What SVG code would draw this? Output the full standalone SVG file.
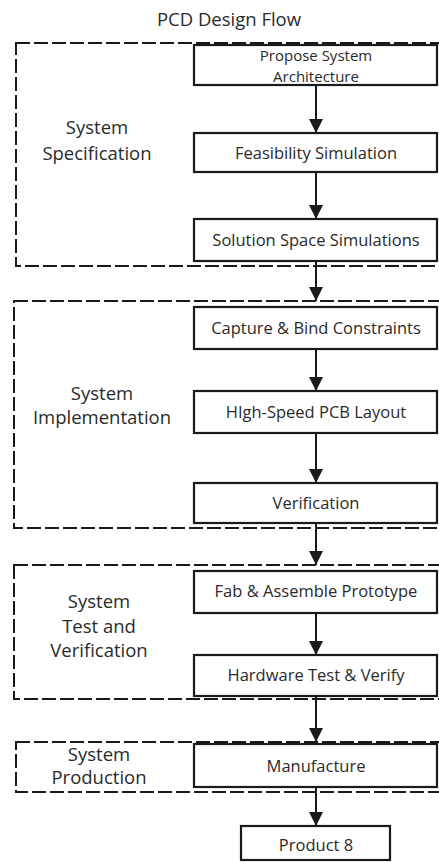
<svg xmlns="http://www.w3.org/2000/svg" width="439" height="862" viewBox="0 0 439 862">
<style>
  .grp { fill: none; stroke: #1a1a1a; stroke-width: 2; stroke-dasharray: 14 4; }
  .box { fill: #ffffff; stroke: #1a1a1a; stroke-width: 2.2; }
  .bt { font-family: "Open Sans", "Liberation Sans", sans-serif; font-size: 16.5px; fill: #2a2a2a; text-anchor: middle; }
  .bt2 { font-family: "Open Sans", "Liberation Sans", sans-serif; font-size: 15px; fill: #2a2a2a; text-anchor: middle; }
  .lt { font-family: "Open Sans", "Liberation Sans", sans-serif; font-size: 18.5px; fill: #2a2a2a; text-anchor: middle; }
  .conn { stroke: #1a1a1a; stroke-width: 2; fill: none; marker-end: url(#ah); }
</style>
<defs>
  <marker id="ah" markerUnits="userSpaceOnUse" markerWidth="14" markerHeight="14" viewBox="0 0 14 14" refX="14" refY="7" orient="auto">
    <path d="M0,0 L14,7 L0,14 Z" fill="#1a1a1a"/>
  </marker>
</defs>
<rect width="439" height="862" fill="#ffffff"/>
<text x="229" y="26" class="lt">PCD Design Flow</text>

<g id="stage-spec">
  <rect class="grp" x="16" y="43" width="440" height="223"/>
  <text class="lt" x="97" y="134">System</text>
  <text class="lt" x="97" y="160">Specification</text>
</g>
<g id="stage-impl">
  <rect class="grp" x="14" y="301" width="440" height="227"/>
  <text class="lt" x="102" y="400">System</text>
  <text class="lt" x="102" y="424">Implementation</text>
</g>
<g id="stage-test">
  <rect class="grp" x="14" y="565" width="440" height="134"/>
  <text class="lt" x="99" y="608">System</text>
  <text class="lt" x="99" y="633">Test and</text>
  <text class="lt" x="99" y="657">Verification</text>
</g>
<g id="stage-prod">
  <rect class="grp" x="16" y="742" width="440" height="50"/>
  <text class="lt" x="99" y="761">System</text>
  <text class="lt" x="99" y="784">Production</text>
</g>

<g id="n1"><rect class="box" x="194" y="45" width="243" height="40"/>
  <text class="bt2" x="316" y="61">Propose System</text>
  <text class="bt2" x="316" y="81.5">Architecture</text></g>
<g id="n2"><rect class="box" x="194" y="133" width="243" height="39"/>
  <text class="bt" x="316" y="159">Feasibility Simulation</text></g>
<g id="n3"><rect class="box" x="194" y="219" width="243" height="42"/>
  <text class="bt" x="316" y="246">Solution Space Simulations</text></g>
<g id="n4"><rect class="box" x="194" y="307" width="243" height="42"/>
  <text class="bt" x="316" y="334">Capture &amp; Bind Constraints</text></g>
<g id="n5"><rect class="box" x="194" y="391" width="243" height="42"/>
  <text class="bt" x="316" y="418">HIgh-Speed PCB Layout</text></g>
<g id="n6"><rect class="box" x="194" y="483" width="243" height="40"/>
  <text class="bt" x="316" y="509">Verification</text></g>
<g id="n7"><rect class="box" x="194" y="571" width="243" height="42"/>
  <text class="bt" x="316" y="597">Fab &amp; Assemble Prototype</text></g>
<g id="n8"><rect class="box" x="194" y="655" width="243" height="41"/>
  <text class="bt" x="316" y="681">Hardware Test &amp; Verify</text></g>
<g id="n9"><rect class="box" x="194" y="744" width="243" height="43"/>
  <text class="bt" x="316" y="772">Manufacture</text></g>
<g id="n10"><rect class="box" x="241" y="826" width="149" height="34"/>
  <text class="bt" x="316" y="851">Product 8</text></g>

<g id="connectors">
  <line class="conn" x1="316" y1="86" x2="316" y2="133"/>
  <line class="conn" x1="316" y1="173" x2="316" y2="219"/>
  <line class="conn" x1="316" y1="262" x2="316" y2="301"/>
  <line class="conn" x1="316" y1="350" x2="316" y2="391"/>
  <line class="conn" x1="316" y1="434" x2="316" y2="483"/>
  <line class="conn" x1="316" y1="524" x2="316" y2="565"/>
  <line class="conn" x1="316" y1="614" x2="316" y2="655"/>
  <line class="conn" x1="316" y1="697" x2="316" y2="742"/>
  <line class="conn" x1="316" y1="788" x2="316" y2="826"/>
</g>
</svg>
